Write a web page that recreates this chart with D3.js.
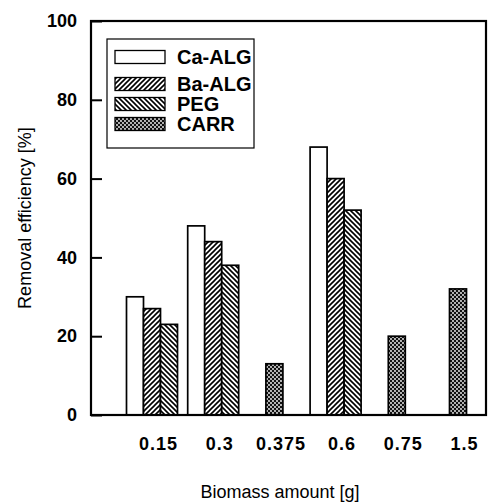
<!DOCTYPE html>
<html>
<head>
<meta charset="utf-8">
<script src="https://cdn.jsdelivr.net/npm/d3@7"></script>
<style>
  body { margin: 0; background: #fff; }
  svg { display: block; }
</style>
</head>
<body>
<svg id="chart" width="489" height="503"></svg>
<script>
  // DATA
  const amounts = ['0.15', '0.3', '0.375', '0.6', '0.75', '1.5'];
  const seriesNames = ['Ca-ALG', 'Ba-ALG', 'PEG', 'CARR'];
  const caAlg = [30, 48, null, 68, null, null];
  const baAlg = [27, 44, null, 60, null, null];
  const peg = [23, 38, null, 52, null, null];
  const carr = [null, null, 13, null, 20, 32];
  const yTicks = [0, 20, 40, 60, 80, 100];

  const svg = d3.select('#chart');
  const font = 'Arial, "Liberation Sans", sans-serif';

  /**
   * SIZE DEFINITIONS
   */
  const plotL = 91, plotR = 486, plotT = 21, plotB = 415;
  const barW = 17;

  /**
   * PATTERNS
   */
  const defs = svg.append('defs');
  const fwd = defs.append('pattern')
    .attr('id', 'p-fwd').attr('patternUnits', 'userSpaceOnUse')
    .attr('width', 5).attr('height', 5);
  fwd.append('rect').attr('width', 5).attr('height', 5).attr('fill', '#fff');
  fwd.append('path').attr('d', 'M-1,6 L6,-1 M-1,1 L1,-1 M4,6 L6,4')
    .attr('stroke', '#000').attr('stroke-width', 1.6);

  const back = defs.append('pattern')
    .attr('id', 'p-back').attr('patternUnits', 'userSpaceOnUse')
    .attr('width', 5).attr('height', 5);
  back.append('rect').attr('width', 5).attr('height', 5).attr('fill', '#fff');
  back.append('path').attr('d', 'M-1,-1 L6,6 M4,-1 L6,1 M-1,4 L1,6')
    .attr('stroke', '#000').attr('stroke-width', 1.6);

  const chk = defs.append('pattern')
    .attr('id', 'p-chk').attr('patternUnits', 'userSpaceOnUse')
    .attr('width', 4).attr('height', 4);
  chk.append('rect').attr('width', 4).attr('height', 4).attr('fill', '#111');
  chk.append('circle').attr('cx', 1).attr('cy', 1).attr('r', 0.9).attr('fill', '#fff');
  chk.append('circle').attr('cx', 3).attr('cy', 3).attr('r', 0.9).attr('fill', '#fff');

  const fills = ['#fff', 'url(#p-fwd)', 'url(#p-back)', 'url(#p-chk)'];

  /**
   * SCALES
   */
  const x = d3.scalePoint().domain(amounts).range([152, 458]);
  const y = d3.scaleLinear().domain([0, 100]).range([plotB, plotT]);

  /**
   * BARS
   */
  const groups = [caAlg, baAlg, peg];
  groups.forEach((vals, s) => {
    svg.append('g').selectAll('rect')
      .data(amounts.map((a, i) => ({ a, v: vals[i] })).filter(d => d.v != null))
      .join('rect')
      .attr('x', d => x(d.a) - barW * 1.5 + s * barW)
      .attr('y', d => y(d.v))
      .attr('width', barW)
      .attr('height', d => y(0) - y(d.v))
      .attr('fill', fills[s])
      .attr('stroke', '#000')
      .attr('stroke-width', 1.7);
  });

  svg.append('g').selectAll('rect')
    .data(amounts.map((a, i) => ({ a, v: carr[i] })).filter(d => d.v != null))
    .join('rect')
    .attr('x', d => x(d.a) - barW / 2)
    .attr('y', d => y(d.v))
    .attr('width', barW)
    .attr('height', d => y(0) - y(d.v))
    .attr('fill', fills[3])
    .attr('stroke', '#000')
    .attr('stroke-width', 1.7);

  /**
   * AXES
   */
  const yAxis = d3.axisLeft(y).tickValues(yTicks).tickSize(-11).tickPadding(14);
  const gY = svg.append('g').attr('transform', `translate(${plotL},0)`).call(yAxis);
  gY.select('.domain').remove();
  gY.selectAll('.tick line').attr('stroke-width', 2);
  gY.selectAll('.tick text')
    .attr('font-family', font).attr('font-size', 18).attr('font-weight', 'bold')
    .attr('fill', '#000');

  const xAxis = d3.axisBottom(x).tickSize(0).tickPadding(22);
  const gX = svg.append('g').attr('transform', `translate(0,${plotB})`).call(xAxis);
  gX.select('.domain').remove();
  gX.selectAll('.tick text')
    .attr('font-family', font).attr('font-size', 18).attr('font-weight', 'bold')
    .attr('letter-spacing', 1)
    .attr('dx', 6)
    .attr('fill', '#000');

  // frame
  svg.append('rect')
    .attr('x', plotL).attr('y', plotT)
    .attr('width', plotR - plotL).attr('height', plotB - plotT)
    .attr('fill', 'none').attr('stroke', '#000').attr('stroke-width', 2.2);

  /**
   * AXIS TITLES
   */
  svg.append('text')
    .attr('transform', `translate(31,${(plotT + plotB) / 2}) rotate(-90)`)
    .attr('text-anchor', 'middle')
    .attr('font-family', font).attr('font-size', 18)
    .text('Removal efficiency [%]');

  svg.append('text')
    .attr('x', 280).attr('y', 498)
    .attr('text-anchor', 'middle')
    .attr('font-family', font).attr('font-size', 18)
    .text('Biomass amount [g]');

  /**
   * LEGEND
   */
  const legend = svg.append('g');
  legend.append('rect')
    .attr('x', 107).attr('y', 39).attr('width', 147).attr('height', 109)
    .attr('fill', '#fff').attr('stroke', '#000').attr('stroke-width', 1.2);
  const rowY = [57, 84, 104, 124];
  const items = legend.selectAll('g.item')
    .data(seriesNames)
    .join('g')
    .attr('class', 'item')
    .attr('transform', (d, i) => `translate(0,${rowY[i]})`);
  items.append('rect')
    .attr('x', 115).attr('y', -6.5).attr('width', 50).attr('height', 13)
    .attr('fill', (d, i) => fills[i])
    .attr('stroke', '#000').attr('stroke-width', 1.3);
  items.append('text')
    .attr('x', 177).attr('y', 7)
    .attr('font-family', font).attr('font-size', 20).attr('font-weight', 'bold')
    .text(d => d);
</script>
</body>
</html>
